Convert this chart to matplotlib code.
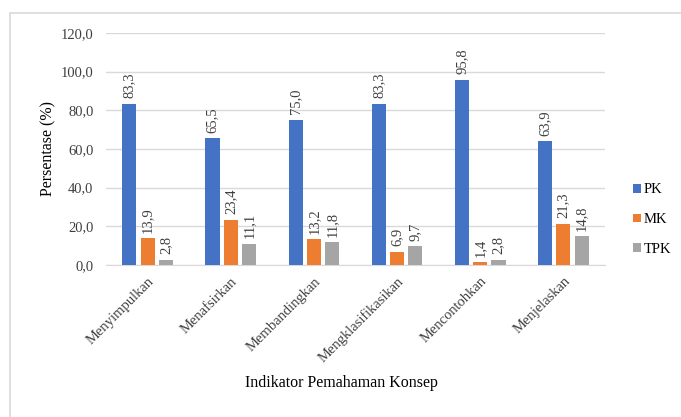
import matplotlib
matplotlib.use("Agg")
import matplotlib.pyplot as plt
import numpy as np
from matplotlib.patches import Rectangle

categories = ["Menyimpulkan", "Menafsirkan", "Membandingkan", "Mengklasifikasikan", "Mencontohkan", "Menjelaskan"]
series_names = ["PK", "MK", "TPK"]
pk = [83.3, 65.5, 75.0, 83.3, 95.8, 63.9]
mk = [13.9, 23.4, 13.2, 6.9, 1.4, 21.3]
tpk = [2.8, 11.1, 11.8, 9.7, 2.8, 14.8]
yticks = [0, 20, 40, 60, 80, 100, 120]
colors = ["#4472C4", "#ED7D31", "#A5A5A5"]

plt.rcParams['font.family'] = ['Liberation Serif', 'DejaVu Serif']

fig = plt.figure(figsize=(6.81, 4.17), dpi=100)
fig.patches.append(Rectangle((10/681, -0.1), 1.2, 1 - 13/417 + 0.1, transform=fig.transFigure,
                             fill=False, edgecolor="#d9d9d9", linewidth=1.2))
ax = fig.add_axes([106/681, 1 - 265/417, (605 - 106)/681, (265 - 33)/417])

x = np.arange(len(categories))
w = 0.17
offs = [-0.22, 0.0, 0.22]
for vals, name, c, o in zip([pk, mk, tpk], series_names, colors, offs):
    bars = ax.bar(x + o, vals, width=w, color=c, label=name, zorder=3)
    for b, v in zip(bars, vals):
        ax.annotate(f"{v:.1f}".replace(".", ","), (b.get_x() + b.get_width()/2, v),
                    xytext=(0, 4), textcoords="offset points", rotation=90,
                    ha="center", va="bottom", fontsize=10.5, color="#404040")

ax.set_xlim(-0.5, len(categories) - 0.5)
ax.set_ylim(0, 120)
ax.set_yticks(yticks)
ax.set_yticklabels([f"{t:.1f}".replace(".", ",") for t in yticks], fontsize=10.5, color="#404040")
ax.set_xticks(x)
ax.set_xticklabels(categories, rotation=45, ha="right", rotation_mode="anchor", fontsize=10.5, color="#404040")
ax.tick_params(axis="x", length=0, pad=7)
ax.tick_params(axis="y", length=0, pad=9)
ax.yaxis.grid(True, color="#d9d9d9", linewidth=1, zorder=0)
for s in ["top", "right", "left"]:
    ax.spines[s].set_visible(False)
ax.spines["bottom"].set_color("#d9d9d9")
ax.set_ylabel("Persentase (%)", fontsize=11.5, color="#000000", labelpad=3)
fig.text(341/681, 1 - 383/417, "Indikator Pemahaman Konsep", ha="center", va="center", fontsize=11.5)

leg = ax.legend(loc="center left", bbox_to_anchor=(1.03, 0.195), frameon=False, fontsize=10.5,
                handlelength=0.55, handleheight=0.55, handletextpad=0.2, labelspacing=1.15)

fig.savefig("out.png", dpi=100)
